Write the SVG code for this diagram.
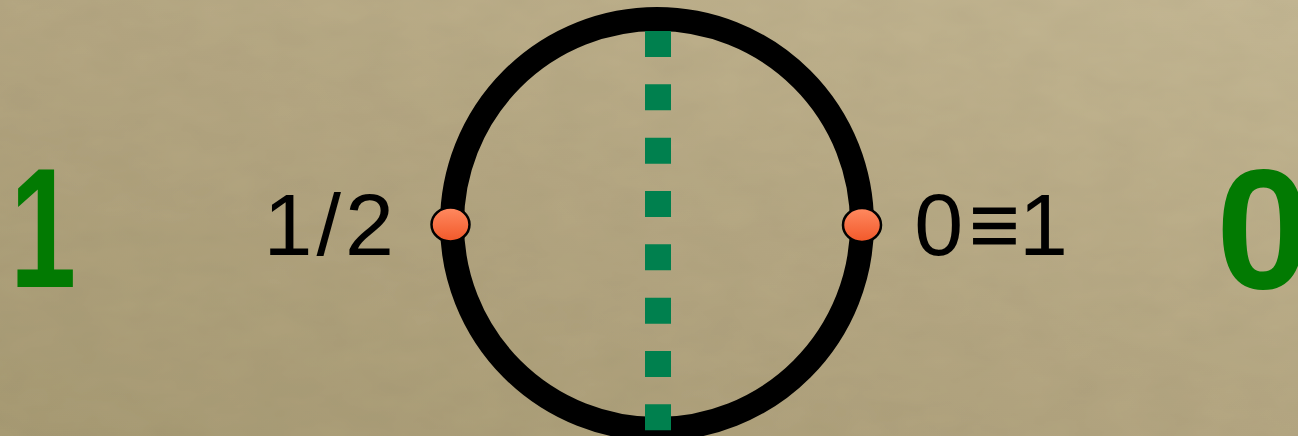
<svg xmlns="http://www.w3.org/2000/svg" width="1298" height="436" viewBox="0 0 1298 436">
  <style>
    .big { font-family: "Liberation Sans", Arial, sans-serif; font-weight: bold; font-size: 170px; fill: #027A02; }
    .lbl { font-family: "Liberation Sans", Arial, sans-serif; font-size: 88px; fill: #000000; }
    .dot { stroke: #000000; stroke-width: 2.5; fill: url(#dotGrad); }
  </style>
  <defs>
    <linearGradient id="bg" x1="0" y1="1" x2="1" y2="0">
      <stop offset="0" stop-color="#A89B74"/>
      <stop offset="0.5" stop-color="#B5A782"/>
      <stop offset="1" stop-color="#C5B894"/>
    </linearGradient>
    <linearGradient id="dotGrad" x1="0" y1="0" x2="0" y2="1">
      <stop offset="0" stop-color="#FF8A60"/>
      <stop offset="1" stop-color="#F2582A"/>
    </linearGradient>
    <filter id="noise" x="0" y="0" width="100%" height="100%">
      <feTurbulence type="fractalNoise" baseFrequency="0.02 0.04" numOctaves="3" seed="4" result="t"/>
      <feColorMatrix in="t" type="matrix" values="0 0 0 0 0  0 0 0 0 0  0 0 0 0 0  0 0 0 0.08 0" result="n"/>
      <feComposite in="n" in2="SourceGraphic" operator="over"/>
    </filter>
  </defs>
  <rect id="background" x="0" y="0" width="1298" height="436" fill="url(#bg)" filter="url(#noise)"/>

  <g id="label-one" transform="translate(10,287) scale(0.7,1)">
    <text class="big" x="0" y="0">1</text>
  </g>
  <g id="label-zero">
    <text class="big" x="1216" y="288">0</text>
  </g>

  <g id="circle">
    <circle cx="657" cy="224" r="205" fill="none" stroke="#000000" stroke-width="24"/>
  </g>

  <g id="connectors">
    <line x1="658" y1="31" x2="658" y2="440" stroke="#00804E" stroke-width="26" stroke-dasharray="26 27.33"/>
  </g>

  <g id="point-half">
    <ellipse class="dot" cx="450.5" cy="224.5" rx="19" ry="17"/>
    <text class="lbl" x="263.5" y="255" letter-spacing="4">1/2</text>
  </g>

  <g id="point-zero">
    <ellipse class="dot" cx="862" cy="225" rx="19" ry="17"/>
    <text class="lbl" x="914.3" y="255">0</text>
    <text class="lbl" x="994.5" y="255" font-size="60" text-anchor="middle">≡</text>
    <text class="lbl" x="1019" y="255">1</text>
  </g>
</svg>
